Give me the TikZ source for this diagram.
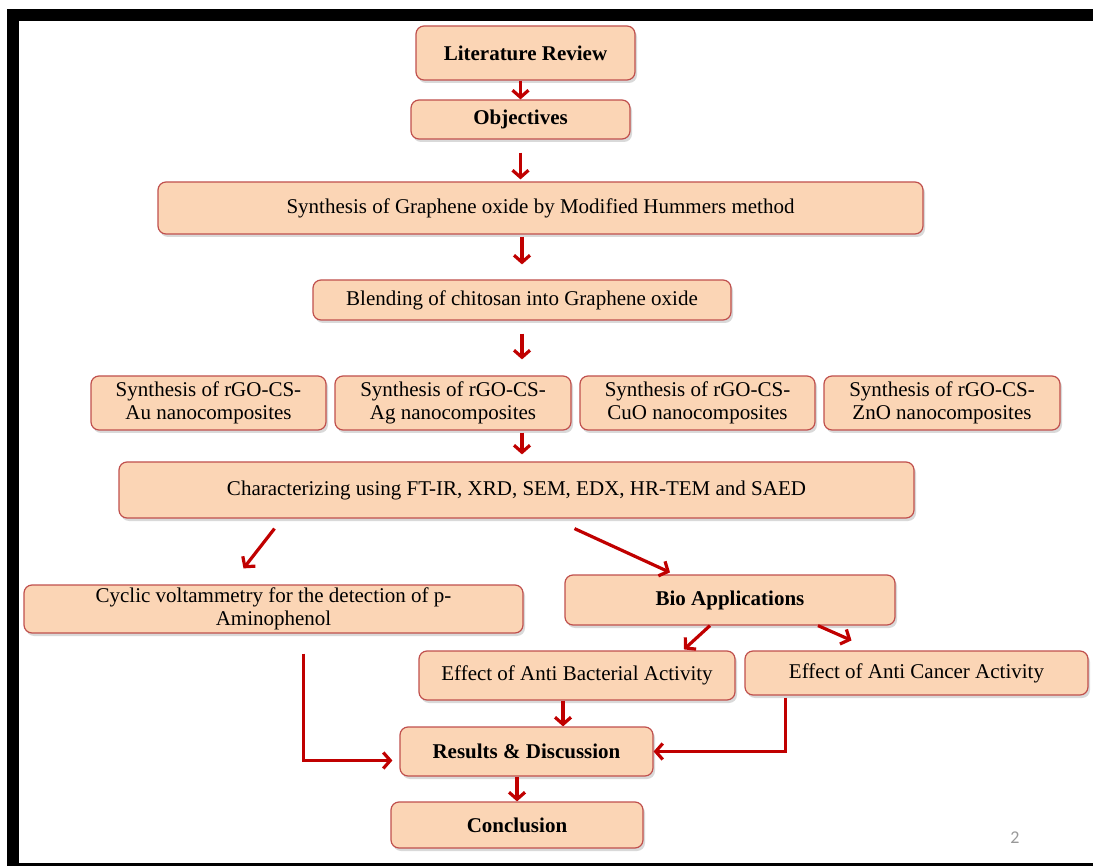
\documentclass[tikz,border=0pt]{standalone}
\usepackage{fontspec}
\setmainfont{Liberation Serif}
\newfontfamily\pagefont{Carlito}
\usetikzlibrary{arrows.meta,shadows}
\definecolor{boxfill}{RGB}{251,213,181}
\definecolor{boxline}{RGB}{192,80,77}
\definecolor{arrowred}{RGB}{192,0,0}

\begin{document}
\begin{tikzpicture}[x=1pt, y=-1pt,
    stage/.style={draw=boxline, fill=boxfill, line width=1.2pt, rounded corners=8pt,
      drop shadow={shadow xshift=2pt, shadow yshift=-3pt, opacity=0.3},
      align=center, inner sep=0pt, font=\fontsize{21}{23}\selectfont},
    stagebold/.style={stage, font=\fontsize{21}{23}\selectfont\bfseries},
    flow/.style={draw=arrowred, line width=3.2pt, -{Straight Barb[length=7pt,width=16pt]}}]
    % Drawing the frame of the slide
    \useasboundingbox (0,0) rectangle (1093,866);
    \fill [black] (7,9) rectangle (1093,21);
    \fill [black] (7,9) rectangle (19,866);
    \fill [black] (7,863) rectangle (1093,866);
    % Drawing the boxes of the work plan
    \node [stagebold, minimum width=219pt, minimum height=54pt] (lit) at (525.5,53) {Literature Review};
    \node [stagebold, minimum width=219pt, minimum height=39pt] (obj) at (520.5,119.5) {Objectives};
    \node [stage, minimum width=765pt, minimum height=52pt] (go) at (540.5,208) {Synthesis of Graphene oxide by Modified Hummers method};
    \node [stage, minimum width=418pt, minimum height=40pt] (blend) at (522,300) {Blending of chitosan into Graphene oxide};
    \node [stage, minimum width=235pt, minimum height=54pt] (au) at (208.5,403) {Synthesis of rGO-CS-\\Au nanocomposites};
    \node [stage, minimum width=236pt, minimum height=54pt] (ag) at (453,403) {Synthesis of rGO-CS-\\Ag nanocomposites};
    \node [stage, minimum width=235pt, minimum height=54pt] (cuo) at (697.5,403) {Synthesis of rGO-CS-\\CuO nanocomposites};
    \node [stage, minimum width=236pt, minimum height=54pt] (zno) at (942,403) {Synthesis of rGO-CS-\\ZnO nanocomposites};
    \node [stage, minimum width=795pt, minimum height=56pt] (char) at (516.5,490) {Characterizing using FT-IR, XRD, SEM, EDX, HR-TEM and SAED};
    \node [stage, minimum width=499pt, minimum height=48pt] (cv) at (273.5,609) {Cyclic voltammetry for the detection of p-\\Aminophenol};
    \node [stagebold, minimum width=330pt, minimum height=50pt] (bio) at (730,600) {Bio Applications};
    \node [stage, minimum width=316pt, minimum height=49pt] (bact) at (577,675.5) {Effect of Anti Bacterial Activity};
    \node [stage, minimum width=343pt, minimum height=44pt] (canc) at (916.5,673) {Effect of Anti Cancer Activity};
    \node [stagebold, minimum width=253pt, minimum height=49pt] (res) at (526.5,751.5) {Results \& Discussion};
    \node [stagebold, minimum width=252pt, minimum height=46pt] (concl) at (517,825) {Conclusion};
    % Drawing the arrows between the boxes
    \draw [flow] (lit.south -| obj.north) -- (obj.north);
    \draw [flow, shorten <=13pt, shorten >=2pt] (obj.south) -- (obj.south |- go.north);
    \draw [flow, shorten <=2pt, shorten >=15pt] (go.south -| blend.north) -- (blend.north);
    \draw [flow, shorten <=13pt, shorten >=16pt] (blend.south) -- (blend.south |- ag.north);
    \draw [flow, shorten <=2pt, shorten >=7pt] (ag.south -| blend.south) -- (char.north -| blend.south);
    \draw [flow] ([shift={(-242,10)}]char.south) -- ([shift={(-30,-16)}]cv.north);
    \draw [flow] ([shift={(58,10)}]char.south) -- ([shift={(-60,-2)}]bio.north);
    \draw [flow] ([shift={(-20,0)}]bio.south) -- ([shift={(107,-1)}]bact.north);
    \draw [flow] ([shift={(88,0)}]bio.south) -- ([shift={(-65,-10)}]canc.north);
    \draw [flow] ([xshift=-14pt]bact.south) -- ([xshift=-14pt]bact.south |- res.north);
    \draw [flow] ([shift={(30,20)}]cv.south) |- ([shift={(-7,9)}]res.west);
    \draw [flow] ([shift={(-131,2)}]canc.south) |- (res.east);
    \draw [flow] (res.south -| concl.north) -- (concl.north);
    % Drawing the slide number
    \node [text=black!40, font=\pagefont\fontsize{18}{20}\selectfont] (pgnum) at (1015,838) {2};
\end{tikzpicture}
\end{document}
